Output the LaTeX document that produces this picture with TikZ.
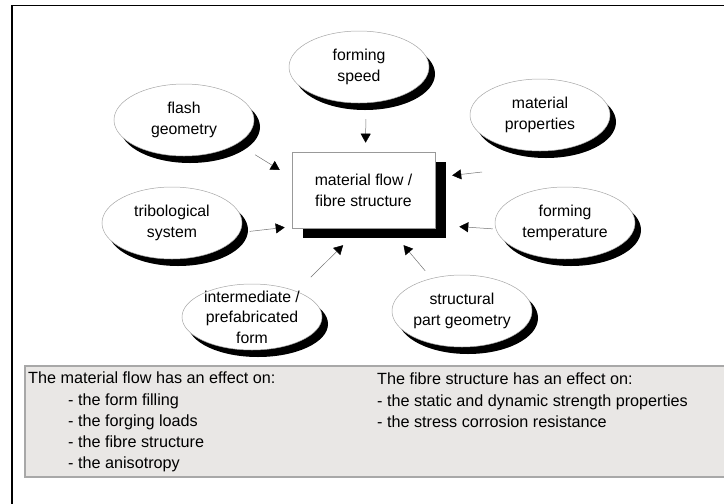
\documentclass[tikz,border=0pt]{standalone}
\usepackage{fontspec}
\setmainfont{Liberation Sans}
\usetikzlibrary{shapes.geometric,shadows,arrows.meta}

\definecolor{panelfill}{RGB}{233,231,229}
\definecolor{panelline}{RGB}{168,168,168}

\begin{document}
\begin{tikzpicture}[x=1pt,y=-1pt,
    bubble/.style={ellipse, draw=gray!70, line width=0.5pt, fill=white, align=center,
        inner xsep=0pt, inner ysep=-10pt, minimum width=140pt, minimum height=72pt,
        font=\fontsize{15.8}{20.5}\selectfont,
        drop shadow={shadow xshift=6pt, shadow yshift=-7pt, fill=black, opacity=1}},
    centrebox/.style={rectangle, draw=gray!80, line width=0.6pt, fill=white, align=center,
        minimum width=143pt, minimum height=76pt, inner sep=0pt,
        font=\fontsize{15.8}{21}\selectfont,
        drop shadow={shadow xshift=10.5pt, shadow yshift=-10pt, fill=black, opacity=1}},
    arr/.style={draw=gray!90!black, line width=0.5pt,
        -{Triangle[length=9pt,width=10pt,color=black]}},
    paneltext/.style={anchor=north west, align=left, inner sep=0pt,
        font=\fontsize{16.2}{21.2}\selectfont}]
    \useasboundingbox (0,0) rectangle (724,504);

    % Positions of the influences and of the centre box
    \coordinate (B) at (363.5,190);
    \coordinate (S) at (359,67);
    \coordinate (F) at (184,120);
    \coordinate (P) at (540,115);
    \coordinate (T) at (172,223);
    \coordinate (M) at (565,223);
    \coordinate (I) at (252,317);
    \coordinate (G) at (462,311);
    \coordinate (propT) at (482,172);

    % Frame
    \draw[line width=1.5pt] (12,504) -- (12,5.5) -- (724,5.5);

    % Grey panel at the bottom
    \filldraw[fill=panelfill, draw=panelline, line width=1.3pt] (25,366) rectangle (730,477);

    % Centre box
    \node[centrebox] (box) at (B) {material flow /\\fibre structure};

    % Influence bubbles
    \node[bubble] (speed) at (S) {forming\\speed};
    \node[bubble] (flash) at (F) {flash\\geometry};
    \node[bubble] (prop) at (P) {material\\properties};
    \node[bubble] (tribo) at (T) {tribological\\system};
    \node[bubble] (temp) at (M) {forming\\temperature};
    \node[bubble, minimum height=66pt] (inter) at (I) {intermediate /\\prefabricated\\form};
    \node[bubble] (struct) at (G) {structural\\part geometry};

    % Arrows to the centre box
    \draw[arr, shorten <=16pt, shorten >=9pt] (speed.281) -- (box.87);
    \draw[arr, shorten <=21pt, shorten >=14pt] (flash.-24) -- (box.170);
    \draw[arr, shorten >=17pt] (propT) -- (box.10);
    \draw[arr, shorten <=10pt, shorten >=7pt] (tribo.-8) -- (box.207);
    \draw[arr, shorten <=3pt, shorten >=24pt] (temp.185) -- (box.-26);
    \draw[arr, shorten <=20pt, shorten >=24pt] (inter.30) -- (box.265);
    \draw[arr, shorten <=10pt, shorten >=22pt] (struct.133) -- (box.-56);

    % Panel texts
    \node[paneltext] (flowtxt) at (28,372) {The material flow has an effect on:\\
        \hspace*{40pt}- the form filling\\
        \hspace*{40pt}- the forging loads\\
        \hspace*{40pt}- the fibre structure\\
        \hspace*{40pt}- the anisotropy};
    \node[paneltext] (fibretxt) at (377,373) {The fibre structure has an effect on:\\
        - the static and dynamic strength properties\\
        - the stress corrosion resistance};
\end{tikzpicture}
\end{document}
